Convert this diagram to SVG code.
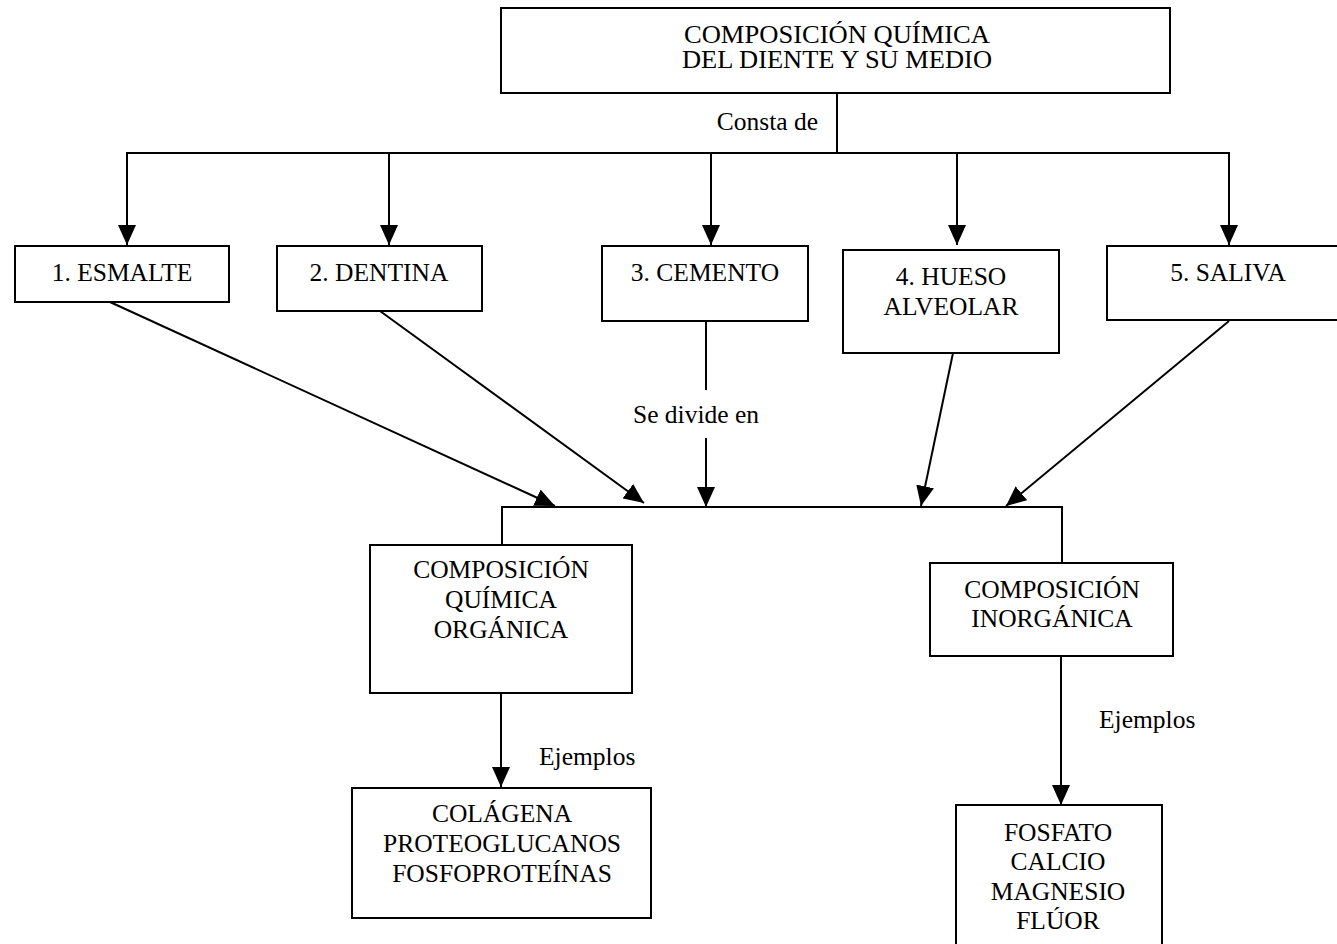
<svg xmlns="http://www.w3.org/2000/svg" width="1337" height="944" viewBox="0 0 1337 944">
  <defs>
    <marker id="arrow" viewBox="0 0 20 18" refX="20" refY="9" markerWidth="20" markerHeight="18" markerUnits="userSpaceOnUse" orient="auto">
      <path d="M0,0 L20,9 L0,18 z" fill="#000"/>
    </marker>
  </defs>
  <style>
    .box { fill: #fff; stroke: #000; stroke-width: 2; }
    .line { fill: none; stroke: #000; stroke-width: 2; }
    .arr { fill: none; stroke: #000; stroke-width: 2; marker-end: url(#arrow); }
    text { font-family: "Liberation Serif", "Times New Roman", serif; font-size: 25.5px; fill: #000; }
    .c { text-anchor: middle; }
    .title { font-size: 25px; }
  </style>
  <rect width="1337" height="944" fill="#fff"/>

  <!-- connectors -->
  <g id="connectors">
    <line class="line" x1="837" y1="94" x2="837" y2="153"/>
    <line class="line" x1="126" y1="153" x2="1230" y2="153"/>
    <line class="arr" x1="127" y1="153" x2="127" y2="245"/>
    <line class="arr" x1="389" y1="153" x2="389" y2="245"/>
    <line class="arr" x1="711" y1="153" x2="711" y2="245"/>
    <line class="arr" x1="957" y1="153" x2="957" y2="245"/>
    <line class="arr" x1="1229" y1="153" x2="1229" y2="245"/>

    <line class="arr" x1="110" y1="302" x2="555" y2="506"/>
    <line class="arr" x1="380" y1="311" x2="644" y2="503"/>
    <line class="line" x1="706" y1="321" x2="706" y2="390"/>
    <line class="arr" x1="706" y1="438" x2="706" y2="507"/>
    <line class="arr" x1="953" y1="353" x2="921" y2="506"/>
    <line class="arr" x1="1229" y1="321" x2="1006" y2="506"/>

    <polyline class="line" points="502,545 502,507 1062,507 1062,563"/>
    <line class="arr" x1="501" y1="694" x2="501" y2="787"/>
    <line class="arr" x1="1061" y1="656" x2="1061" y2="805"/>

    <text x="818" y="130" text-anchor="end">Consta de</text>
    <text class="c" x="696" y="423">Se divide en</text>
    <text x="539" y="765">Ejemplos</text>
    <text x="1099" y="728">Ejemplos</text>
  </g>

  <g id="node-root">
    <rect class="box" x="501" y="8" width="669" height="85"/>
    <text class="c title" x="837" y="43" textLength="306" lengthAdjust="spacingAndGlyphs">COMPOSICIÓN QUÍMICA</text>
    <text class="c title" x="837" y="68" textLength="310" lengthAdjust="spacingAndGlyphs">DEL DIENTE Y SU MEDIO</text>
  </g>

  <g id="node-esmalte">
    <rect class="box" x="15" y="246" width="214" height="56"/>
    <text class="c" x="122" y="281">1. ESMALTE</text>
  </g>

  <g id="node-dentina">
    <rect class="box" x="277" y="246" width="205" height="65"/>
    <text class="c" x="379" y="281">2. DENTINA</text>
  </g>

  <g id="node-cemento">
    <rect class="box" x="602" y="246" width="206" height="75"/>
    <text class="c" x="705" y="281">3. CEMENTO</text>
  </g>

  <g id="node-hueso">
    <rect class="box" x="843" y="250" width="216" height="103"/>
    <text class="c" x="951" y="285">4. HUESO</text>
    <text class="c" x="951" y="315">ALVEOLAR</text>
  </g>

  <g id="node-saliva">
    <rect class="box" x="1107" y="246" width="245" height="74"/>
    <text class="c" x="1228" y="281">5. SALIVA</text>
  </g>

  <g id="node-organica">
    <rect class="box" x="370" y="545" width="262" height="148"/>
    <text class="c" x="501" y="578">COMPOSICIÓN</text>
    <text class="c" x="501" y="608">QUÍMICA</text>
    <text class="c" x="501" y="638">ORGÁNICA</text>
  </g>

  <g id="node-inorganica">
    <rect class="box" x="930" y="563" width="243" height="93"/>
    <text class="c" x="1052" y="598">COMPOSICIÓN</text>
    <text class="c" x="1052" y="627">INORGÁNICA</text>
  </g>

  <g id="node-ejemplos-organica">
    <rect class="box" x="352" y="788" width="299" height="130"/>
    <text class="c" x="502" y="822">COLÁGENA</text>
    <text class="c" x="502" y="852">PROTEOGLUCANOS</text>
    <text class="c" x="502" y="882">FOSFOPROTEÍNAS</text>
  </g>

  <g id="node-ejemplos-inorganica">
    <rect class="box" x="956" y="805" width="206" height="150"/>
    <text class="c" x="1058" y="841">FOSFATO</text>
    <text class="c" x="1058" y="870">CALCIO</text>
    <text class="c" x="1058" y="900">MAGNESIO</text>
    <text class="c" x="1058" y="929">FLÚOR</text>
  </g>
</svg>
